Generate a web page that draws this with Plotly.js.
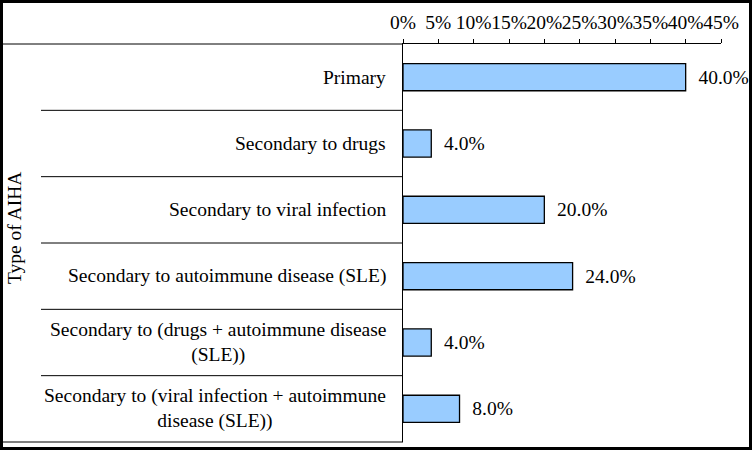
<!DOCTYPE html>
<html>
<head>
<meta charset="utf-8">
<script src="https://cdn.plot.ly/plotly-3.0.1.min.js"></script>
<style>
  html, body { margin: 0; padding: 0; background: #fff; }
  #wrap { position: relative; width: 752px; height: 450px; }
  #chart { width: 752px; height: 450px; }
  #frame { position: absolute; left: 0; top: 0; width: 752px; height: 450px; box-sizing: border-box; border: 3px solid #000; pointer-events: none; }
</style>
</head>
<body>
<div id="wrap"><div id="chart"></div><div id="frame"></div></div>
<script>
// ---- data ----
var categories = [
  "Primary",
  "Secondary to drugs",
  "Secondary to viral infection",
  "Secondary to autoimmune disease (SLE)",
  "Secondary to (drugs + autoimmune disease<br>(SLE))",
  "Secondary to (viral infection + autoimmune<br>disease (SLE))"
];
var percentValues = [40, 4, 20, 24, 4, 8];
var tickValues = [0, 5, 10, 15, 20, 25, 30, 35, 40, 45];
var yAxisTitle = "Type of AIHA";

// ---- layout geometry (pixels) ----
var W = 752, H = 450;
var mL = 403, mR = 31, mT = 44, mB = 8;
var plotW = W - mL - mR, plotH = H - mT - mB;
function px2paperX(px) { return (px - mL) / plotW; }
function px2paperY(py) { return (H - mB - py) / plotH; }

var FONT = "Liberation Serif";
var FS = 19.5;

var trace = {
  type: "bar",
  orientation: "h",
  y: categories.map(function (c, i) { return i; }),
  x: percentValues,
  text: percentValues.map(function (v) { return "\u00a0\u00a0" + v.toFixed(1) + "%"; }),
  textposition: "outside",
  textfont: { family: FONT, size: FS, color: "#000" },
  cliponaxis: false,
  marker: { color: "#99CCFF", line: { color: "#000", width: 1.3 } },
  hoverinfo: "none"
};

var n = categories.length;
var shapes = [];
for (var k = 0; k <= n; k++) {
  var x0 = (k === 0 || k === n) ? px2paperX(3) : px2paperX(41);
  shapes.push({
    type: "line", xref: "paper", yref: "paper",
    x0: x0, x1: 0, y0: k / n, y1: k / n,
    line: { color: "#000", width: 1 }
  });
}

var annotations = categories.map(function (c, i) {
  return {
    xref: "paper", yref: "y", x: 0, y: i,
    xanchor: "right", yanchor: "middle", xshift: -15,
    text: c, showarrow: false, align: "center",
    font: { family: FONT, size: FS, color: "#000" }
  };
});
annotations.push({
  xref: "paper", yref: "paper",
  x: px2paperX(14), y: px2paperY(228),
  xanchor: "center", yanchor: "middle",
  text: yAxisTitle, textangle: -90, showarrow: false,
  font: { family: FONT, size: FS, color: "#000" }
});

var layout = {
  width: W, height: H,
  margin: { l: mL, r: mR, t: mT, b: mB, pad: 0 },
  paper_bgcolor: "#fff", plot_bgcolor: "#fff",
  showlegend: false,
  bargap: 0.59,
  font: { family: FONT, size: FS, color: "#000" },
  xaxis: {
    side: "top", range: [0, 45], tickvals: tickValues,
    ticktext: tickValues.map(function (t) { return t + "%"; }),
    tickangle: 0, ticklabelstandoff: 2,
    showgrid: false, zeroline: false,
    showline: true, linecolor: "#000", linewidth: 1,
    ticks: "outside", ticklen: 4, tickcolor: "#000", tickwidth: 1,
    tickfont: { family: FONT, size: FS, color: "#000" },
    fixedrange: true
  },
  yaxis: {
    range: [n - 0.5, -0.5],
    showticklabels: false, showgrid: false, zeroline: false,
    showline: true, linecolor: "#000", linewidth: 1, ticks: "",
    fixedrange: true
  },
  shapes: shapes,
  annotations: annotations
};

Plotly.newPlot("chart", [trace], layout, { displayModeBar: false, staticPlot: true });
</script>
</body>
</html>
